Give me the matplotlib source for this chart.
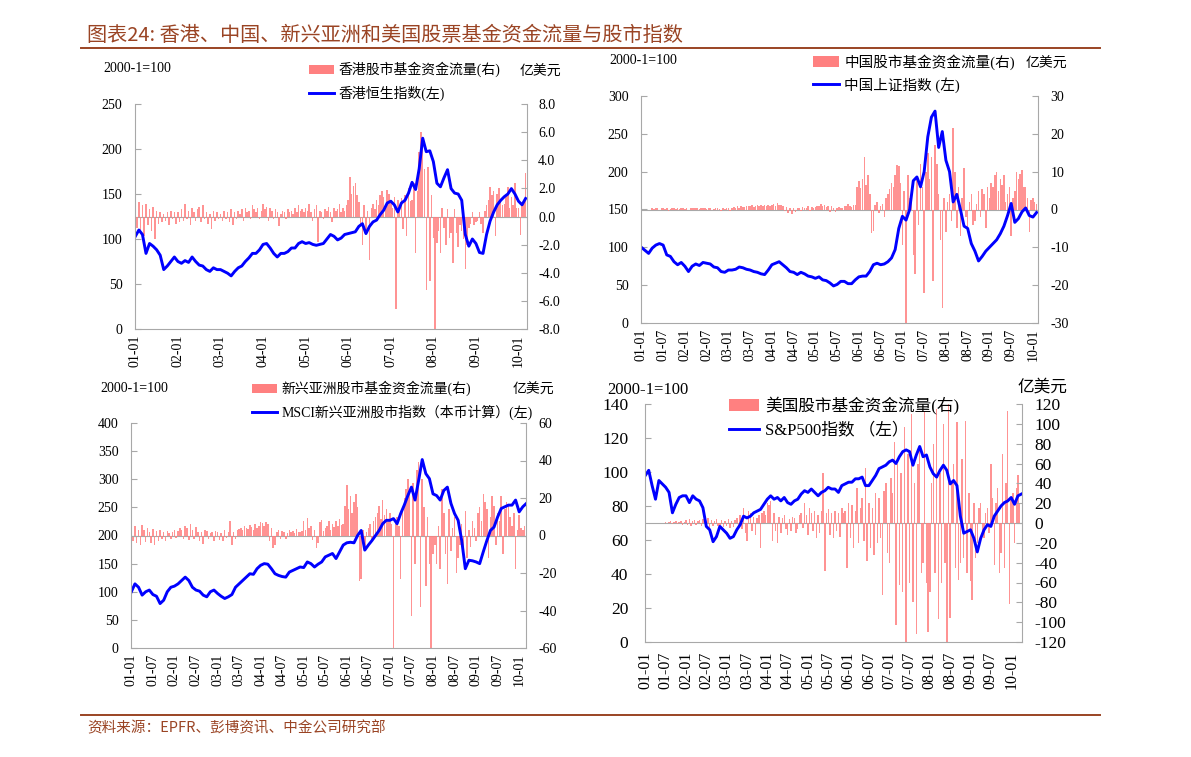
import numpy as np
import matplotlib.pyplot as plt
from matplotlib.lines import Line2D
from matplotlib.patches import Patch

plt.rcParams['font.family'] = ['Liberation Serif', 'Noto Sans CJK SC']
plt.rcParams['axes.unicode_minus'] = False

# ---------------- data (monthly index from 2001-01, flows twice a month) ----------------
year_labels = ['01-01', '02-01', '03-01', '04-01', '05-01', '06-01', '07-01', '08-01', '09-01', '10-01']
half_labels = ['01-01', '01-07', '02-01', '02-07', '03-01', '03-07', '04-01', '04-07', '05-01', '05-07',
               '06-01', '06-07', '07-01', '07-07', '08-01', '08-07', '09-01', '09-07', '10-01']

hk_index = [103, 110, 105, 84, 95, 92, 88, 82, 66, 70, 75, 80,
            75, 73, 76, 74, 80, 75, 71, 70, 66, 64, 68, 66,
            66, 64, 62, 59, 64, 68, 70, 75, 79, 84, 84, 88,
            94, 95, 90, 84, 80, 84, 84, 86, 90, 90, 95, 97,
            95, 96, 94, 93, 94, 95, 100, 105, 103, 99, 101, 105,
            106, 107, 108, 114, 117, 106, 114, 119, 121, 127, 132, 140,
            142, 138, 130, 140, 143, 151, 163, 155, 178, 212, 197, 198,
            186, 162, 158, 168, 177, 156, 151, 150, 143, 105, 92, 100,
            95, 85, 84, 105, 120, 130, 138, 143, 147, 150, 156, 150,
            142, 138, 145]
hk_flow = [0.6, -0.8, 1.0, -1.2, 0.8, -1.4, 0.9, -0.6, 0.5, -1.0, 0.7, -1.6, 0.4, -0.5, 0.3, -0.4, 0.2, -0.3, 0.3, -0.6, 0.4, -0.2, 0.3, -0.5,
           0.3, -0.4, 0.5, -0.3, 0.9, -0.2, 0.4, -0.6, 0.6, 0.3, -0.3, 0.5, 0.7, -0.4, 0.8, -0.2, 0.3, -0.5, 0.2, -0.9, 0.4, -0.3, 0.3, -0.2,
           0.2, -0.3, 0.4, -0.2, 0.3, -0.4, 0.5, -0.6, 0.3, -0.2, 0.4, 0.2, 0.5, -0.3, 0.6, 0.3, 0.4, -0.2, 0.8, 0.5, 0.3, 0.6, -0.2, 0.4,
           0.9, 0.5, 0.7, -0.3, 0.6, 0.4, -0.2, 0.5, 0.3, -0.7, 0.2, 0.4, 0.3, -0.2, 0.5, 0.3, 0.4, 0.2, 0.6, 0.3, 0.8, 0.4, 0.5, 0.3,
           0.6, 0.4, 0.9, 0.3, -0.3, 0.5, 0.8, -1.8, 0.4, 0.3, -0.2, 0.5, 0.4, 0.7, 0.3, -0.4, 0.6, 0.4, 0.5, 0.9, 0.3, 0.6, 0.4, 0.8,
           1.2, 2.8, 1.6, 2.2, 2.4, 1.5, 1.0, -0.5, -2.0, 0.8, -1.0, 0.4, -3.1, 0.6, 0.9, 0.5, 1.2, 0.8, 1.5, 1.8, 1.4, 0.9, 1.9, 1.6,
           1.2, 0.6, 1.4, -6.6, 1.2, 0.8, 1.3, -0.9, 1.5, -1.4, 2.0, 1.1, 1.2, 2.4, -2.6, 1.8, 4.6, 6.0, 5.4, 3.4, -5.2, 3.5, -4.6, 1.5,
           -1.5, -8.0, -1.9, -1.0, -2.6, 0.6, -0.8, -2.0, 0.5, -1.5, -1.2, -3.3, 0.5, -1.2, -2.2, -0.6, -1.0, -1.6, -3.7, -2.0, -0.8, -0.5, 0.3, -0.6,
           -0.4, -0.3, 0.3, -0.5, -1.2, 0.4, 0.8, 1.2, 2.1, 1.5, 1.8, -1.4, 1.6, 2.0, 1.2, 0.8, 0.9, 1.5, 2.1, 0.6, 1.4, 0.8, 2.4, 0.6,
           0.6, -1.3, 0.9, 1.2, 3.1]

cn_index = [100, 96, 92, 99, 103, 105, 103, 90, 88, 81, 77, 80,
            75, 68, 75, 78, 76, 80, 79, 78, 74, 73, 68, 67,
            70, 70, 71, 74, 73, 71, 70, 68, 67, 65, 64, 70,
            77, 79, 81, 77, 73, 68, 67, 64, 67, 65, 62, 61,
            59, 61, 57, 56, 53, 49, 51, 55, 55, 52, 52, 57,
            61, 62, 62, 68, 77, 79, 77, 78, 81, 86, 97, 125,
            141, 136, 150, 188, 193, 180, 200, 246, 272, 280, 232, 253,
            215, 200, 160, 170, 150, 128, 125, 105, 95, 82, 88, 95,
            100, 105, 110, 118, 128, 142, 158, 133, 138, 147, 152, 142,
            140, 146]
cn_flow = [0, 0, 0, 0, 0, 0, 0.3, 0.2, 0.4, 0.3, -0.2, 0.3, 0.4, 0.2, 0.3, -0.3, 0.2, 0.4, 0.3, 0.2, 0.3, 0.2, 0.4, 0.3,
           0.2, 0.3, -0.2, 0.4, 0.3, 0.5, 0.4, 0.3, 0.2, 0.5, 0.4, 0.3, 0.2, 0.4, 0.3, -0.2, 0.2, 0.3, 0.4, 0.2, -0.3, 0.3, 0.2, 0.4,
           0.3, -0.4, 0.5, 0.6, 0.4, 0.8, 0.5, 0.9, 0.7, 0.6, 1.0, 0.8, 0.9, 1.1, 0.7, 1.0, 1.2, 0.9, 1.1, 0.8, 1.3, 1.0, 1.2, 0.9,
           1.2, 1.4, 1.0, 1.6, 1.3, 1.1, 0.8, -0.5, 0.6, -0.8, 0.4, -1.2, 0.5, -0.6, 0.3, 0.4, -0.5, 0.6, 0.5, 0.3, 0.8, -0.4, 0.6, 0.5,
           0.7, 1.0, 0.8, 1.4, 0.9, 1.1, 0.6, 1.0, -0.6, 0.8, 0.5, -0.7, 0.4, 0.6, 0.5, 0.3, 1.0, 0.8, 1.5, 0.9, 0.6, 1.2, 1.2, 6.0,
           7.5, 5.8, 8.0, 13.9, 6.5, 9.0, 4.0, -6.3, -5.8, 1.2, 2.0, -1.0, 0.8, 1.5, -2.0, 3.0, 4.0, 5.5, 7.0, 6.0, 9.0, 11.7, 11.5, 7.0,
           -9.4, 5.0, -30.0, 9.0, 3.0, 6.0, -12.0, -17.0, 8.0, -4.0, 12.0, 6.0, -22.0, 10.0, 15.0, 8.0, 14.0, -19.0, 17.0, 12.0, 4.0, -8.0, -26.0, 3.0,
           -6.0, 2.0, 4.0, -3.0, 21.5, 10.0, -5.0, 6.0, -7.0, 3.0, 11.0, -2.0, -5.0, 2.0, 4.0, -4.0, -3.0, 1.5, 5.0, -2.0, 5.5, 4.0, -5.0, 6.0,
           3.0, 7.0, 6.0, 9.0, 10.0, 5.0, 8.0, 6.5, 9.0, 2.0, 4.0, 6.0, -7.0, 3.0, 5.0, 10.0, 8.0, 9.5, 10.5, 6.0, 6.0, 3.0, -6.0, 2.5,
           3.0, 2.0, 1.5]

asia_index = [100, 114, 108, 94, 100, 103, 95, 92, 79, 85, 100, 108,
              110, 114, 120, 126, 120, 108, 103, 101, 94, 91, 100, 103,
              97, 92, 88, 91, 95, 108, 114, 120, 126, 132, 131, 141,
              147, 150, 149, 141, 132, 129, 127, 126, 135, 138, 141, 144,
              143, 153, 150, 144, 149, 153, 162, 165, 168, 159, 171, 183,
              187, 188, 187, 200, 209, 174, 183, 191, 200, 209, 221, 227,
              227, 230, 221, 239, 254, 271, 286, 263, 298, 335, 310, 301,
              274, 271, 263, 280, 286, 257, 239, 227, 191, 141, 156, 155,
              153, 150, 171, 191, 209, 215, 233, 248, 251, 254, 254, 263,
              242, 251, 257]
asia_flow = [4.0, -3.0, 5.0, -4.0, 3.0, -5.0, 5.5, 3.0, -3.5, 4.0, 2.0, -4.0, 3.5, -5.0, 2.5, -3.0, 3.0, -2.0, 2.0, -3.0, 2.5, 1.5, -2.0, 2.0,
             3.0, -1.5, 2.5, 4.0, 3.0, -2.0, 5.0, 4.0, -2.5, 6.0, 3.0, -2.0, 4.5, 2.0, -3.0, 2.0, -4.5, 3.0, 2.5, -2.0, 1.5, 2.0, -3.0, 2.5,
             2.0, -2.5, 1.5, -3.0, 3.0, -1.5, 2.0, 7.5, -5.0, 2.0, -2.0, 3.0, 3.5, 4.0, 3.0, 5.0, 4.0, 3.5, 5.5, 4.5, 3.0, 6.0, 4.0, 5.0,
             7.0, 6.5, 5.0, 7.0, 6.0, -3.0, 4.0, -6.5, -5.0, 2.0, 3.0, -2.0, 2.5, 2.0, -2.0, 1.5, 3.0, 2.0, 2.5, 1.5, 3.5, 2.0, 2.0, 2.5,
             8.0, 3.0, 9.5, 4.0, 5.0, -2.5, 3.0, -6.5, -4.0, 7.0, 8.5, 2.5, 4.0, 5.0, 8.0, 3.0, 6.0, 4.5, 7.5, 5.0, 9.0, 5.5, 6.0, 16.0,
             27.0, 14.0, 21.0, 12.0, 18.0, 22.0, 15.0, -24.0, -23.0, 3.0, -8.0, 2.0, 4.0, 6.0, -3.0, 8.0, 10.0, 12.0, 16.0, 9.0, 19.0, 11.0, 14.0, 8.0,
             12.0, 6.0, -60.0, 8.0, 10.0, 5.0, -23.0, 15.0, 20.0, 25.0, 30.0, 22.0, -43.0, 28.0, -15.0, 35.0, 39.0, -38.0, 30.0, 15.0, -27.0, 10.0, -15.0, -60.0,
             -10.0, -5.0, -15.0, 5.0, -18.0, 25.0, 12.0, -10.0, -26.0, 14.0, -8.0, 4.0, 10.0, -20.0, -12.0, -5.0, 6.0, -14.0, 13.0, -12.0, 3.0, -6.0, 8.0, 4.0,
             -3.0, 12.0, 15.0, 8.0, 22.0, 18.0, 14.0, -12.0, 10.0, 21.0, 16.0, -5.0, 12.0, 8.0, 21.0, -10.0, 14.0, 18.0, 16.0, 10.0, 5.0, 12.0, -18.0, 3.0,
             11.0, 4.0, 3.0, 5.0, 8.0]

us_index = [98, 101, 92, 84, 95, 93, 91, 88, 76, 81, 85, 86,
            86, 82, 86, 84, 83, 79, 68, 66, 59, 62, 68, 66,
            64, 61, 62, 66, 69, 74, 73, 74, 76, 77, 78, 81,
            84, 86, 84, 85, 83, 85, 82, 81, 83, 84, 87, 89,
            88, 90, 88, 86, 88, 89, 91, 90, 90, 88, 92, 93,
            94, 94, 96, 96, 97, 92, 92, 95, 98, 102, 103, 104,
            106, 107, 105, 109, 112, 113, 112, 104, 110, 115, 109, 110,
            103, 99, 97, 101, 104, 101, 93, 95, 92, 74, 64, 65,
            66, 61, 53, 61, 66, 69, 68, 74, 77, 80, 82, 83,
            85, 81, 86, 87]
us_flow = [0, 0, 0, 0, 0, 0, 0, 0, 0, 0, 0, 0, 0.8, -0.5, 1.0, 2.0, -1.5, 1.5, 2.0, -1.0, 1.0, 2.5, -2.0, 1.5,
           3.0, -2.0, 4.0, -3.0, 2.0, 3.5, -2.5, 2.0, 3.0, -3.0, 4.0, 2.0, -4.0, 5.0, -5.0, 3.0, -3.0, 2.5, 4.0, -3.0, -2.0, 3.0, -4.0, 2.0,
           -3, 4, -5, 2, -4, 3, 5, -3, 8, -6, 15, -10, -18, 12, 10, -8, 6, -12, 5, 8, -25, 10, 12, 8,
           20, 18, 22, -18, 10, -8, -20, 6, -10, 5, 8, -6, -12, 4, -8, 6, 5, -10, -6, 8, 10, -5, 20, 8,
           -12, 15, 10, -8, 12, -15, 8, -10, 12, 50, -48, 10, 14, -12, 10, -15, 12, -8, 10, -14, 15, 10, 12, -45,
           20, -15, 18, -25, 12, 35, -20, 15, 25, -18, 55, -38, 20, -25, 15, -32, 30, -20, 25, -15, -73, 32, 40, -30,
           -40, 45, 30, 82, -103, 60, -63, 50, -70, 97, -120, 70, -60, 110, -80, 40, -112, 60, 75, -50, -40, 113, -60, -110,
           -70, 40, 80, -50, 115, -97, 50, -60, 100, -40, -120, 120, -96, 40, 60, -45, 102, -57, -40, 65, -35, 103, -50, 30,
           -58, -78, 20, -35, -20, 15, 20, -10, -15, 10, 15, -10, 60, 25, -42, 20, 35, -50, -30, 70, -45, 40, 113, -82,
           25, 30, -20, 35, 48, 20]

BROWN = '#9A4424'
BAR = '#FF8080'
BLUE = '#0000FF'
GREY = '#A8A8A8'
CJK = ['Noto Sans CJK SC', 'DejaVu Sans']

W, H = 1191, 757
fig = plt.figure(figsize=(W / 100, H / 100), dpi=100)


def fx(px):
    return px / W


def fy(py):
    return 1 - py / H


def panel(box, index, flow, lim_l, step_l, lim_r, step_r, rfmt, xlabels, tick_every, xmax,
          fs, xfs, pad_l, pad_r, pad_x):
    x0, y0, x1, y1 = box
    ax = fig.add_axes([fx(x0), fy(y1), (x1 - x0) / W, (y1 - y0) / H])
    ax2 = ax.twinx()
    ax.set_zorder(ax2.get_zorder() + 1)
    ax.patch.set_visible(False)

    bars = ax2.bar(np.arange(len(flow)) / 2, flow, width=0.42, color=BAR, linewidth=0, alpha=0.85)
    ax2.axhline(0, color=GREY, lw=0.8, zorder=0)
    line, = ax.plot(np.arange(len(index)), index, color=BLUE, lw=2.1)

    ax.set_xlim(-0.1, xmax)
    ax.set_ylim(0, lim_l)
    ax.set_yticks(np.arange(0, lim_l + 1, step_l))
    ax2.set_ylim(-lim_r, lim_r)
    ax2.set_yticks(np.arange(-lim_r, lim_r + 0.01, step_r))
    ax2.set_yticklabels([rfmt % v for v in np.arange(-lim_r, lim_r + 0.01, step_r)])
    ax.set_xticks(np.arange(len(xlabels)) * tick_every)
    ax.set_xticklabels(xlabels, rotation=90, va='top')

    for a in (ax, ax2):
        a.spines['top'].set_visible(False)
        for s in a.spines.values():
            s.set_color(GREY)
    ax.spines['right'].set_visible(False)
    ax2.spines['left'].set_visible(False)
    ax2.spines['bottom'].set_visible(False)
    ax.tick_params(axis='y', direction='in', length=4, color=GREY, labelsize=fs, pad=pad_l)
    ax2.tick_params(axis='y', direction='in', length=4, color=GREY, labelsize=fs, pad=pad_r)
    ax.tick_params(axis='x', length=0, labelsize=xfs, pad=pad_x)
    return ax, bars, line


def legend(ax, bars, line, labels, px, py, size, spacing):
    ax.legend([Patch(facecolor=BAR), line], labels, loc='upper left',
              bbox_to_anchor=(fx(px), fy(py)), bbox_transform=fig.transFigure,
              frameon=False, fontsize=size, handlelength=1.8, handletextpad=0.35,
              labelspacing=spacing, borderpad=0, borderaxespad=0)


# panel 1: Hong Kong
ax, b, l = panel((135, 104, 527, 329), hk_index, hk_flow, 250, 50, 8, 2, '%.1f',
                 year_labels, 12, 110.4, 10, 10, 9, 8, 4)
legend(ax, b, l, ['香港股市基金资金流量(右)', '香港恒生指数(左)'], 309, 62, 10, 0.6)
fig.text(fx(103), fy(69), '2000-1=100', fontsize=10, va='center')
fig.text(fx(520), fy(72), '亿美元', fontsize=10, va='center', family=CJK)

# panel 2: China
ax, b, l = panel((641, 96, 1038, 323), cn_index, cn_flow, 300, 50, 30, 10, '%d',
                 half_labels, 6, 109.4, 10, 10, 9, 9, 4)
legend(ax, b, l, ['中国股市基金资金流量(右)', '中国上证指数 (左)'], 813, 54, 10.5, 0.5)
fig.text(fx(609), fy(61), '2000-1=100', fontsize=10, va='center')
fig.text(fx(1026), fy(64), '亿美元', fontsize=10, va='center', family=CJK)

# panel 3: emerging Asia
ax, b, l = panel((131, 423, 526, 648), asia_index, asia_flow, 400, 50, 60, 20, '%d',
                 half_labels, 6, 109.9, 10, 10, 9, 9, 4)
legend(ax, b, l, ['新兴亚洲股市基金资金流量(右)', 'MSCI新兴亚洲股市指数（本币计算）(左)'], 252, 381, 10, 0.6)
fig.text(fx(100), fy(388), '2000-1=100', fontsize=10, va='center')
fig.text(fx(513), fy(390), '亿美元', fontsize=10, va='center', family=CJK)

# panel 4: US
ax, b, l = panel((645, 404, 1022, 642), us_index, us_flow, 140, 20, 120, 20, '%d',
                 half_labels, 6, 111.2, 12.5, 11.5, 12, 9, 7)
legend(ax, b, l, ['美国股市基金资金流量(右)', 'S&P500指数 （左）'], 729, 397, 12, 0.45)
fig.text(fx(607), fy(390), '2000-1=100', fontsize=12, va='center')
fig.text(fx(1017), fy(387), '亿美元', fontsize=12, va='center', family=CJK)

# title, rules and source
fig.text(fx(87), fy(35), '图表24: 香港、中国、新兴亚洲和美国股票基金资金流量与股市指数',
         fontsize=14.5, color=BROWN, va='center', family=CJK)
fig.add_artist(Line2D([fx(81), fx(1100)], [fy(48), fy(48)], color=BROWN, lw=1.4))
fig.add_artist(Line2D([fx(81), fx(1100)], [fy(715), fy(715)], color=BROWN, lw=1.4))
fig.text(fx(87), fy(728), '资料来源：EPFR、彭博资讯、中金公司研究部', fontsize=10.5,
         color=BROWN, va='center', family=CJK)

fig.savefig('out.png', dpi=100)
